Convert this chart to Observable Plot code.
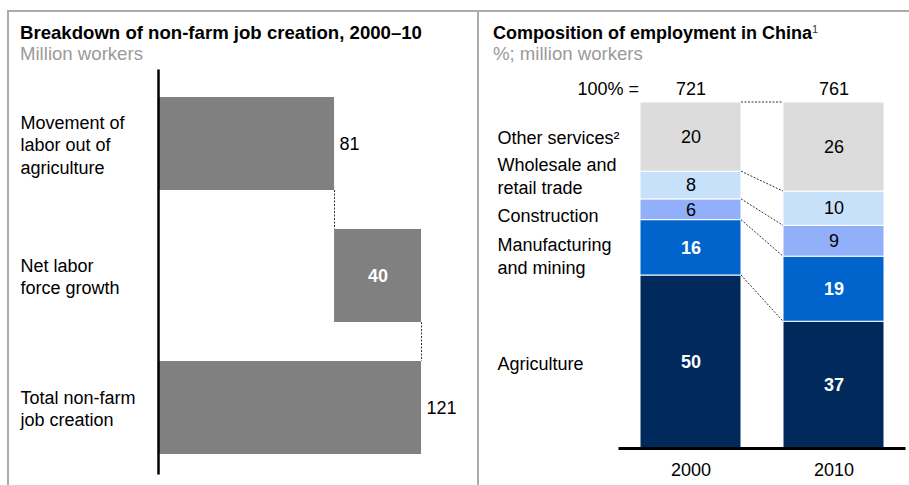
<!DOCTYPE html>
<html><head><meta charset="utf-8">
<script src="https://cdn.jsdelivr.net/npm/d3@7"></script>
<script src="https://cdn.jsdelivr.net/npm/@observablehq/plot@0.6"></script>
<style>
html,body{margin:0;padding:0;background:#fff;}
body{width:909px;height:485px;position:relative;overflow:hidden;font-family:"Liberation Sans",Arial,sans-serif;}
.abs{position:absolute;}
.title{font-weight:bold;font-size:18px;line-height:18px;color:#000;white-space:nowrap;}
.sub{font-size:18.6px;line-height:18px;color:#9a9a9a;white-space:nowrap;}
.line{position:absolute;background:#ababab;}
.sup{font-size:11px;font-weight:normal;position:relative;top:-6px;color:#333;}
</style></head><body>
<div id="left" class="abs" style="left:0;top:0"></div>
<div id="right" class="abs" style="left:478px;top:0"></div>
<div class="line" style="left:8px;top:10px;width:901px;height:2px"></div>
<div class="line" style="left:7px;top:10px;width:2px;height:475px"></div>
<div class="line" style="left:477px;top:10px;width:2px;height:475px"></div>
<div class="abs title" style="left:20px;top:24px;font-size:18.6px">Breakdown of non-farm job creation, 2000–10</div>
<div class="abs sub" style="left:20px;top:45px">Million workers</div>
<div class="abs title" style="left:493px;top:24px">Composition of employment in China<span class="sup">1</span></div>
<div class="abs sub" style="left:493px;top:45px">%; million workers</div>
<script>
// ---- Left chart data (waterfall) ----
const stepLabels = ["Movement of\nlabor out of\nagriculture", "Net labor\nforce growth", "Total non-farm\njob creation"];
const stepValues = [81, 40, 121];
const stepKinds = ["delta", "delta", "total"];

// ---- Right chart data (stacked shares) ----
const years = ["2000", "2010"];
const totals = [721, 761];
const sectors = ["Agriculture", "Manufacturing and mining", "Construction", "Wholesale and retail trade", "Other services"];
const sectorLabels = ["Agriculture", "Manufacturing\nand mining", "Construction", "Wholesale and\nretail trade", "Other services²"];
const share2000 = [50, 16, 6, 8, 20];
const share2010 = [37, 19, 9, 10, 26];

// styles
const sectorColors = ["#002a5c", "#0064cc", "#92b0fa", "#c8e1fb", "#dcdcdc"];
const darkSectors = new Set(["Agriculture", "Manufacturing and mining"]);
const labelNudge = {"Agriculture": 1, "Manufacturing and mining": 7, "Construction": 5, "Wholesale and retail trade": -10, "Other services": 0};
const font = "'Liberation Sans', Arial, sans-serif";

// build waterfall table
let run = 0;
const steps = stepLabels.map((label, i) => {
  const v = stepValues[i];
  let x1, x2;
  if (stepKinds[i] === "total") { x1 = 0; x2 = v; }
  else { x1 = run; x2 = run + v; run += v; }
  return {label, value: v, x1, x2, inside: stepKinds[i] === "delta" && i > 0, i};
});

const left = Plot.plot({
  width: 478, height: 485,
  marginLeft: 158, marginRight: 57, marginTop: 76.5, marginBottom: 10.5,
  x: {domain: [0, d3.max(stepValues)], axis: null},
  y: {domain: stepLabels, axis: null, paddingInner: 0.294, paddingOuter: 0.147},
  style: {fontFamily: font, fontSize: "18px", background: "transparent", overflow: "visible"},
  marks: [
    Plot.barX(steps, {x1: "x1", x2: "x2", y: "label", fill: "#808080"}),
    Plot.ruleX([0], {stroke: "#000", strokeWidth: 2.5, insetTop: -7}),
    Plot.text(steps.filter(d => !d.inside), {x: "x2", y: "label", text: "value", dx: 5, textAnchor: "start", fill: "#000"}),
    Plot.text(steps.filter(d => d.inside), {x: d => (d.x1 + d.x2) / 2, y: "label", text: "value", fill: "#fff", fontWeight: "bold"}),
    Plot.text(steps, {y: "label", text: "label", frameAnchor: "left", dx: -138, textAnchor: "start", lineHeight: 1.25, fill: "#000"})
  ]
});
document.getElementById("left").appendChild(left);

// connectors for waterfall using Plot's scales
{
  const xs = left.scale("x"), ys = left.scale("y");
  const g = d3.select(left).append("g").attr("stroke", "#333").attr("stroke-width", 1).attr("stroke-dasharray", "2,1.5");
  for (let i = 0; i < steps.length - 1; i++) {
    const x = Math.round(xs.apply(steps[i].x2)) + 0.5;
    g.append("line").attr("x1", x).attr("x2", x)
      .attr("y1", ys.apply(steps[i].label) + ys.bandwidth)
      .attr("y2", ys.apply(steps[i + 1].label));
  }
}

// build stacked table
const segs = [];
const bounds = {};
years.forEach((yr, j) => {
  const vals = j === 0 ? share2000 : share2010;
  const sum = d3.sum(vals);
  let acc = 0;
  bounds[yr] = [0];
  sectors.forEach((s, i) => {
    const y1 = acc / sum; acc += vals[i]; const y2 = acc / sum;
    bounds[yr].push(y2);
    segs.push({year: yr, sector: s, label: sectorLabels[i], value: vals[i], y1, y2});
  });
});
const totalRows = years.map((yr, j) => ({year: yr, total: totals[j]}));

const labelMarks = sectors.map(s =>
  Plot.text(segs.filter(d => d.year === years[0] && d.sector === s), {
    y: d => (d.y1 + d.y2) / 2, text: "label", frameAnchor: "left", dx: -121.5, dy: labelNudge[s],
    textAnchor: "start", lineHeight: 1.28, fill: "#000"
  })
);

const right = Plot.plot({
  width: 431, height: 485,
  marginLeft: 140.5, marginRight: 3.5, marginTop: 102, marginBottom: 37,
  x: {domain: years, paddingInner: 0.297, paddingOuter: 0.15, tickSize: 0, tickPadding: 15, label: null},
  y: {domain: [0, 1], axis: null},
  color: {domain: sectors, range: sectorColors},
  style: {fontFamily: font, fontSize: "18px", background: "transparent", color: "#000", overflow: "visible"},
  marks: [
    Plot.rectY(segs, {x: "year", y1: "y1", y2: "y2", fill: "sector", stroke: "#fff", strokeWidth: 1}),
    Plot.ruleY([0], {stroke: "#000", strokeWidth: 3}),
    Plot.text(segs.filter(d => darkSectors.has(d.sector)), {x: "year", y: d => (d.y1 + d.y2) / 2, text: "value", fill: "#fff", fontWeight: "bold"}),
    Plot.text(segs.filter(d => !darkSectors.has(d.sector)), {x: "year", y: d => (d.y1 + d.y2) / 2, text: "value", fill: "#000"}),
    Plot.text(totalRows, {x: "year", y: () => 1, text: "total", dy: -13, fill: "#000"}),
    Plot.text(["100% ="], {x: () => years[0], y: () => 1, text: d => d, dx: -52, dy: -13, textAnchor: "end", fill: "#000"}),
    ...labelMarks
  ]
});
document.getElementById("right").appendChild(right);

// connectors between the stacks using Plot's scales
{
  const xs = right.scale("x"), ys = right.scale("y");
  const xa = xs.apply(years[0]) + xs.bandwidth, xb = xs.apply(years[1]);
  const g = d3.select(right).append("g").attr("stroke", "#333").attr("stroke-width", 1).attr("stroke-dasharray", "2,1.5").attr("fill", "none");
  for (let k = 1; k <= sectors.length; k++) {
    g.append("line").attr("x1", xa).attr("x2", xb)
      .attr("y1", ys.apply(bounds[years[0]][k]))
      .attr("y2", ys.apply(bounds[years[1]][k]));
  }
}
</script>
</body></html>
